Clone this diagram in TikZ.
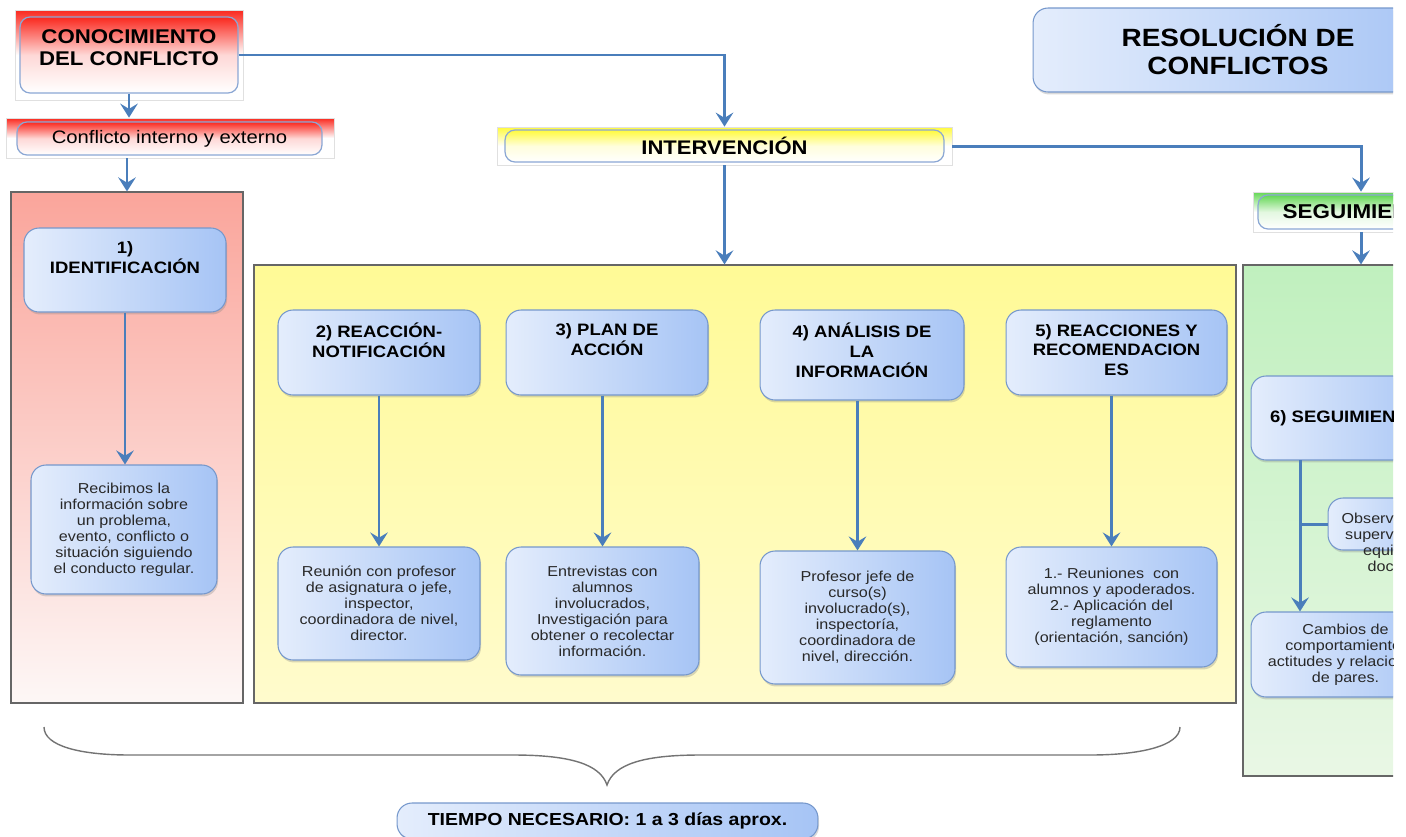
\documentclass[tikz,border=0pt]{standalone}
\usepackage{fontspec}
\setmainfont{Liberation Sans}[FakeStretch=1.12]
\usetikzlibrary{arrows.meta,shadows}

\definecolor{bxL}{RGB}{228,237,252}
\definecolor{bxR}{RGB}{166,196,245}
\definecolor{bxline}{RGB}{118,152,204}
\definecolor{arrblue}{RGB}{74,126,187}
\definecolor{hdred}{RGB}{250,40,30}
\definecolor{hdyel}{RGB}{255,250,60}
\definecolor{hdgrn}{RGB}{100,215,85}
\definecolor{redtop}{RGB}{250,165,155}
\definecolor{redbot}{RGB}{253,247,246}
\definecolor{yeltop}{RGB}{255,250,150}
\definecolor{yelbot}{RGB}{255,251,205}
\definecolor{grntop}{RGB}{192,240,190}
\definecolor{grnbot}{RGB}{233,247,229}
\definecolor{txtgray}{RGB}{40,40,40}

\tikzset{
  box/.style={draw=bxline, line width=0.6pt, rounded corners=0.3cm, inner sep=0pt,
    left color=bxL, right color=bxR, align=center,
    drop shadow={shadow xshift=0.6pt, shadow yshift=-1.4pt, opacity=0.3}},
  body/.style={box, font=\fontsize{8.2}{9.1}\selectfont, text=txtgray},
  hd/.style={align=center, inner sep=0pt, font=\bfseries\fontsize{9.4}{11.3}\selectfont},
  hdbig/.style={align=center, inner sep=0pt, font=\bfseries\fontsize{11.3}{12.6}\selectfont},
  panel/.style={draw=black!60, line width=0.7pt, inner sep=0pt},
  bgband/.style={draw=black!12, line width=0.4pt, inner sep=0pt, top color=#1, bottom color=white, middle color=white},
  banner/.style={draw=bxline!85, line width=0.7pt, rounded corners=0.2cm, inner sep=0pt,
    top color=#1, bottom color=white, middle color=#1!18},
  arr/.style={draw=arrblue, line width=1.7pt, -{Stealth[length=8pt,width=10pt,inset=3pt]}},
  joint/.style={draw=arrblue, line width=1.7pt},
  brace/.style={draw=black!55, line width=0.8pt}
}

\begin{document}
\begin{tikzpicture}[x=0.02cm, y=-0.02cm]
\useasboundingbox (0,0) rectangle (1406,836);
\clip (0,0) rectangle (1393,836);

% panels
\node[panel, top color=redtop, bottom color=redbot, minimum width=4.64cm, minimum height=10.22cm] (redp) at (127,447.5) {};
\node[panel, top color=yeltop, bottom color=yelbot, minimum width=19.64cm, minimum height=8.76cm] (yelp) at (745,484) {};
\node[panel, top color=grntop, bottom color=grnbot, minimum width=4.72cm, minimum height=10.22cm] (grnp) at (1361,520.5) {};

% titles
\node[bgband=hdred, minimum width=4.56cm, minimum height=1.8cm] (conocbg) at (129,55) {};
\node[banner=hdred, minimum width=4.36cm, minimum height=1.52cm] (conoc) at (129,55) {};
\node[hdbig] (conoct) at (129,48) {CONOCIMIENTO\\DEL CONFLICTO};

\node[bgband=hdred, minimum width=6.56cm, minimum height=0.8cm] (confbg) at (170,138) {};
\node[banner=hdred, minimum width=6.1cm, minimum height=0.66cm, font=\fontsize{10.3}{12}\selectfont] (conf) at (169.5,138.5) {Conflicto interno y externo};

\node[bgband=hdyel, minimum width=9.1cm, minimum height=0.76cm] (intbg) at (724.5,146) {};
\node[banner=hdyel, minimum width=8.78cm, minimum height=0.64cm, font=\bfseries\fontsize{11.2}{13}\selectfont] (interv) at (724.5,146) {INTERVENCIÓN};

\node[bgband=hdgrn, minimum width=4.32cm, minimum height=0.8cm] (segbg) at (1361,212) {};
\node[banner=hdgrn, minimum width=4.12cm, minimum height=0.68cm, font=\bfseries\fontsize{11.4}{13}\selectfont] (seg) at (1361,212) {SEGUIMIENTO};

\node[box, minimum width=8.2cm, minimum height=1.68cm, font=\bfseries\fontsize{14.2}{15.9}\selectfont] (resol) at (1238,50) {RESOLUCIÓN DE\\CONFLICTOS};

% steps
\node[box, minimum width=4.04cm, minimum height=1.68cm] (b1) at (125,270) {};
\node[hd] (t1) at (125,258) {1)\\IDENTIFICACIÓN};
\node[body, minimum width=3.72cm, minimum height=2.58cm] (d1) at (124,529.5) {Recibimos la\\información sobre\\un problema,\\evento, conflicto o\\situación siguiendo\\el conducto regular.};

\node[box, minimum width=4.04cm, minimum height=1.7cm] (b2) at (379,352.5) {};
\node[hd] (t2) at (379,340) {2) REACCIÓN-\\NOTIFICACIÓN};
\node[body, minimum width=4.04cm, minimum height=2.26cm] (d2) at (379,603.5) {Reunión con profesor\\de asignatura o jefe,\\inspector,\\coordinadora de nivel,\\director.};

\node[box, minimum width=4.04cm, minimum height=1.7cm] (b3) at (607,352.5) {};
\node[hd] (t3) at (607,340) {3) PLAN DE\\ACCIÓN};
\node[body, minimum width=3.86cm, minimum height=2.56cm] (d3) at (602.5,611) {Entrevistas con\\alumnos\\involucrados,\\Investigación para\\obtener o recolectar\\información.};

\node[box, minimum width=4.08cm, minimum height=1.8cm] (b4) at (862,355) {};
\node[hd] (t4) at (862,350) {4) ANÁLISIS DE\\LA\\INFORMACIÓN};
\node[body, minimum width=3.9cm, minimum height=2.66cm] (d4) at (857.5,617.5) {Profesor jefe de\\curso(s)\\involucrado(s),\\inspectoría,\\coordinadora de\\nivel, dirección.};

\node[box, minimum width=4.42cm, minimum height=1.7cm] (b5) at (1116.5,352.5) {};
\node[hd] (t5) at (1116.5,350) {5) REACCIONES Y\\RECOMENDACION\\ES};
\node[body, minimum width=4.22cm, minimum height=2.4cm] (d5) at (1111.5,607) {1.- Reuniones \ con\\alumnos y apoderados.\\2.- Aplicación del\\reglamento\\(orientación, sanción)};

\node[box, minimum width=3.78cm, minimum height=1.68cm, font=\bfseries\fontsize{9.4}{11.3}\selectfont] (b6) at (1345.5,418) {6) SEGUIMIENTO};
\node[box, minimum width=2.44cm, minimum height=1.04cm] (obs) at (1389,524) {};
\node[align=right, inner sep=0pt, anchor=east, text=txtgray, font=\fontsize{8.2}{9.1}\selectfont] (obst) at (1394,542) {Observ\\superv\\equi\\doc};
\node[body, minimum width=3.78cm, minimum height=1.7cm] (d6) at (1345.5,654.5) {Cambios de\\comportamiento,\\actitudes y relaciones\\de pares.};
\coordinate (v6) at (1300,460);

\node[box, minimum width=8.42cm, minimum height=0.72cm, font=\bfseries\fontsize{9.9}{12}\selectfont] (tiempo) at (607.5,821) {TIEMPO NECESARIO: 1 a 3 días aprox.};

% connectors
\path[arr] (conoc.east) -| (intbg.north);
\path[arr] (conoc.south) -- (conoc.south |- confbg.north);
\path[arr] (redp.north |- confbg.south) -- (redp.north);
\path[arr] (intbg.south) -- (intbg.south |- yelp.north);
\path[arr] (intbg.east) -| (segbg.north);
\path[arr] (segbg.south) -- (grnp.north);
\path[arr] (b1.south) -- (b1.south |- d1.north);
\path[arr] (b2.south) -- (d2.north);
\path[arr] (d3.north |- b3.south) -- (d3.north);
\path[arr] (d4.north |- b4.south) -- (d4.north);
\path[arr] (d5.north |- b5.south) -- (d5.north);
\path[arr] (v6) -- (v6 |- d6.north);
\path[joint] (v6 |- obs.west) -- (obs.west);

\draw[brace] (44,727) .. controls (44,746) and (80,755) .. (130,755) -- (513,755)
  .. controls (570,755) and (600,764) .. (607,785)
  .. controls (614,764) and (644,755) .. (700,755) -- (1090,755)
  .. controls (1140,755) and (1180,746) .. (1180,727);

\end{tikzpicture}
\end{document}
